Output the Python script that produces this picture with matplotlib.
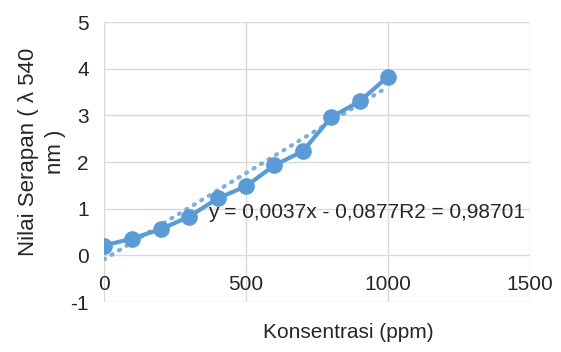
import numpy as np
import matplotlib
matplotlib.use('Agg')
import matplotlib.pyplot as plt

# data
konsentrasi = [0, 100, 200, 300, 400, 500, 600, 700, 800, 900, 1000]
serapan = [0.21, 0.36, 0.56, 0.83, 1.22, 1.48, 1.93, 2.23, 2.96, 3.30, 3.83]
slope = 0.0037
intercept = -0.0877
r2 = 0.98701
x_ticks = [0, 500, 1000, 1500]
y_ticks = [-1, 0, 1, 2, 3, 4, 5]

plt.rcParams['font.family'] = ['Liberation Sans', 'DejaVu Sans']
plt.rcParams['axes.unicode_minus'] = False
blue = '#5B9BD5'
txt = '#262626'

fig = plt.figure(figsize=(5.61, 3.52), dpi=100)
ax = fig.add_axes([104/561, 1-302/352, (530-104)/561, (302-22)/352])

ax.set_xlim(0, 1500)
ax.set_ylim(-1, 5)
ax.set_xticks(x_ticks)
ax.set_yticks(y_ticks)
ax.grid(True, color='#d9d9d9', lw=1)
ax.set_axisbelow(True)
for s in ax.spines.values():
    s.set_visible(False)
ax.spines['bottom'].set_position(('data', 0))
ax.tick_params(axis='both', length=0, labelsize=15, labelcolor=txt)
ax.tick_params(axis='x', pad=14)
ax.tick_params(axis='y', pad=11)

# trendline
xt = np.array([konsentrasi[0], konsentrasi[-1]])
ax.plot(xt, slope*xt + intercept, ls=(0, (0.3, 1.8)), lw=3, color='#7fb0de',
        dash_capstyle='round', zorder=2)
ax.plot(konsentrasi, serapan, '-o', color=blue, lw=3, ms=11, zorder=3)

eq = 'y = ' + f'{slope:.4f}'.replace('.', ',') + 'x - ' + f'{-intercept:.4f}'.replace('.', ',') \
     + 'R2 = ' + f'{r2:.5f}'.replace('.', ',')
ax.text(366, 0.92, eq, fontsize=15, color=txt, va='center', ha='left', zorder=4)

fig.text(348/561, 1-333/352, 'Konsentrasi (ppm)', fontsize=15, color=txt, ha='center', va='center')
fig.text(42/561, 1-152/352, 'Nilai Serapan ( λ 540\nnm )', fontsize=16, color=txt,
         ha='center', va='center', rotation=90, multialignment='center', linespacing=1.4)

fig.savefig('out.png', dpi=100)
